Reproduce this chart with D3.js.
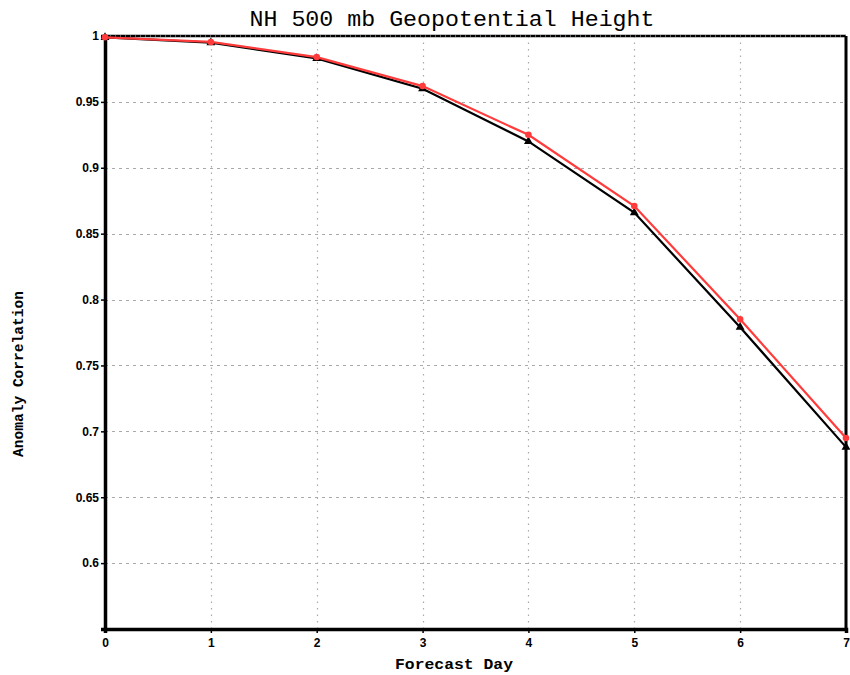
<!DOCTYPE html>
<html lang="en">
<head>
<meta charset="UTF-8">
<title>NH 500 mb Geopotential Height</title>
<script src="https://d3js.org/d3.v7.min.js"></script>
<style>
  body { margin: 0; background: #fff; }
</style>
</head>
<body>
<svg id="main" width="850" height="675"></svg>
<script>
    // data
    let days = [0, 1, 2, 3, 4, 5, 6, 7];
    let blackSeries = [0.999, 0.995, 0.983, 0.960, 0.920, 0.866, 0.779, 0.688];
    let redSeries = [0.999, 0.9955, 0.984, 0.962, 0.925, 0.871, 0.785, 0.695];
    let yTicks = [0.6, 0.65, 0.7, 0.75, 0.8, 0.85, 0.9, 0.95, 1];
    let yTickLabels = ['0.6', '0.65', '0.7', '0.75', '0.8', '0.85', '0.9', '0.95', '1'];

    let svg = d3.select('#main');
    let margins = {left: 105, right: 4, top: 36, bottom: 46};
    let W = 850, H = 675;

    let xScale = d3.scaleLinear().domain([0, 7]).range([margins.left, W - margins.right]);
    let yScale = d3.scaleLinear().domain([0.55, 1]).range([H - margins.bottom, margins.top]);

    // grid
    let grid = svg.append('g').attr('stroke', '#aaa').attr('stroke-width', 1.2);
    grid.selectAll('line.h')
        .data(yTicks.slice(0, -1))
        .enter().append('line')
        .attr('x1', margins.left).attr('x2', W - margins.right)
        .attr('y1', d => Math.round(yScale(d)) + 0.5).attr('y2', d => Math.round(yScale(d)) + 0.5)
        .attr('stroke-dasharray', '3,4');
    grid.selectAll('line.v')
        .data(days.slice(1, -1))
        .enter().append('line')
        .attr('x1', d => Math.round(xScale(d)) + 0.5).attr('x2', d => Math.round(xScale(d)) + 0.5)
        .attr('y1', margins.top).attr('y2', H - margins.bottom)
        .attr('stroke-dasharray', '1.5,5');

    // frame: top and right
    svg.append('line')
        .attr('x1', margins.left).attr('x2', W - margins.right)
        .attr('y1', margins.top).attr('y2', margins.top)
        .attr('stroke', '#000').attr('stroke-width', 2.5);
    svg.append('line')
        .attr('x1', margins.left).attr('x2', W - margins.right)
        .attr('y1', margins.top).attr('y2', margins.top)
        .attr('stroke', '#bbb').attr('stroke-width', 1).attr('stroke-dasharray', '1,4');
    svg.append('line')
        .attr('x1', W - margins.right).attr('x2', W - margins.right)
        .attr('y1', margins.top).attr('y2', H - margins.bottom)
        .attr('stroke', '#000').attr('stroke-width', 3);

    // axes
    let xAxis = d3.axisBottom(xScale).tickValues(days).tickSize(4).tickFormat(d3.format('d'));
    let yAxis = d3.axisLeft(yScale).tickValues(yTicks).tickSize(4)
        .tickFormat((d, i) => yTickLabels[i]);

    let gx = svg.append('g')
        .attr('transform', 'translate(0,' + (H - margins.bottom) + ')')
        .call(xAxis);
    let gy = svg.append('g')
        .attr('transform', 'translate(' + margins.left + ',0)')
        .call(yAxis);
    [gx, gy].forEach(function (g) {
        g.select('.domain').attr('stroke', '#000').attr('stroke-width', 3.5);
        g.selectAll('.tick line').attr('stroke', '#000').attr('stroke-width', 1.5);
        g.selectAll('.tick text')
            .attr('fill', '#000')
            .style('font-family', 'Liberation Sans, Arial, sans-serif')
            .style('font-weight', 'bold')
            .style('font-size', '12px');
    });
    gx.selectAll('.tick text').attr('y', 9);
    gy.selectAll('.tick text').attr('x', -6);

    // lines
    let line = d3.line()
        .x((d, i) => xScale(days[i]))
        .y(d => yScale(d));
    let series = [
        {values: blackSeries, color: '#000000', shape: d3.symbolTriangle},
        {values: redSeries, color: '#ff3b3b', shape: d3.symbolCircle}
    ];
    series.forEach(function (s) {
        svg.append('path')
            .datum(s.values)
            .attr('d', line)
            .attr('fill', 'none')
            .attr('stroke', s.color)
            .attr('stroke-width', 2.2);
        svg.append('g').selectAll('path')
            .data(s.values)
            .enter().append('path')
            .attr('d', d3.symbol().type(s.shape).size(34))
            .attr('transform', (d, i) => 'translate(' + xScale(days[i]) + ',' + yScale(d) + ')')
            .attr('fill', s.color);
    });

    // titles
    svg.append('text')
        .attr('x', 452).attr('y', 26)
        .attr('text-anchor', 'middle')
        .attr('textLength', 405)
        .attr('lengthAdjust', 'spacingAndGlyphs')
        .style('font-family', 'Liberation Mono, Courier New, monospace')
        .style('font-size', '22px')
        .text('NH 500 mb Geopotential Height');
    svg.append('text')
        .attr('x', 454).attr('y', 669)
        .attr('text-anchor', 'middle')
        .attr('textLength', 118)
        .attr('lengthAdjust', 'spacingAndGlyphs')
        .style('font-family', 'Liberation Mono, Courier New, monospace')
        .style('font-weight', 'bold')
        .style('font-size', '14px')
        .text('Forecast Day');
    svg.append('text')
        .attr('transform', 'translate(23,374) rotate(-90)')
        .attr('text-anchor', 'middle')
        .attr('textLength', 166)
        .attr('lengthAdjust', 'spacingAndGlyphs')
        .style('font-family', 'Liberation Mono, Courier New, monospace')
        .style('font-weight', 'bold')
        .style('font-size', '14px')
        .text('Anomaly Correlation');
</script>
</body>
</html>
